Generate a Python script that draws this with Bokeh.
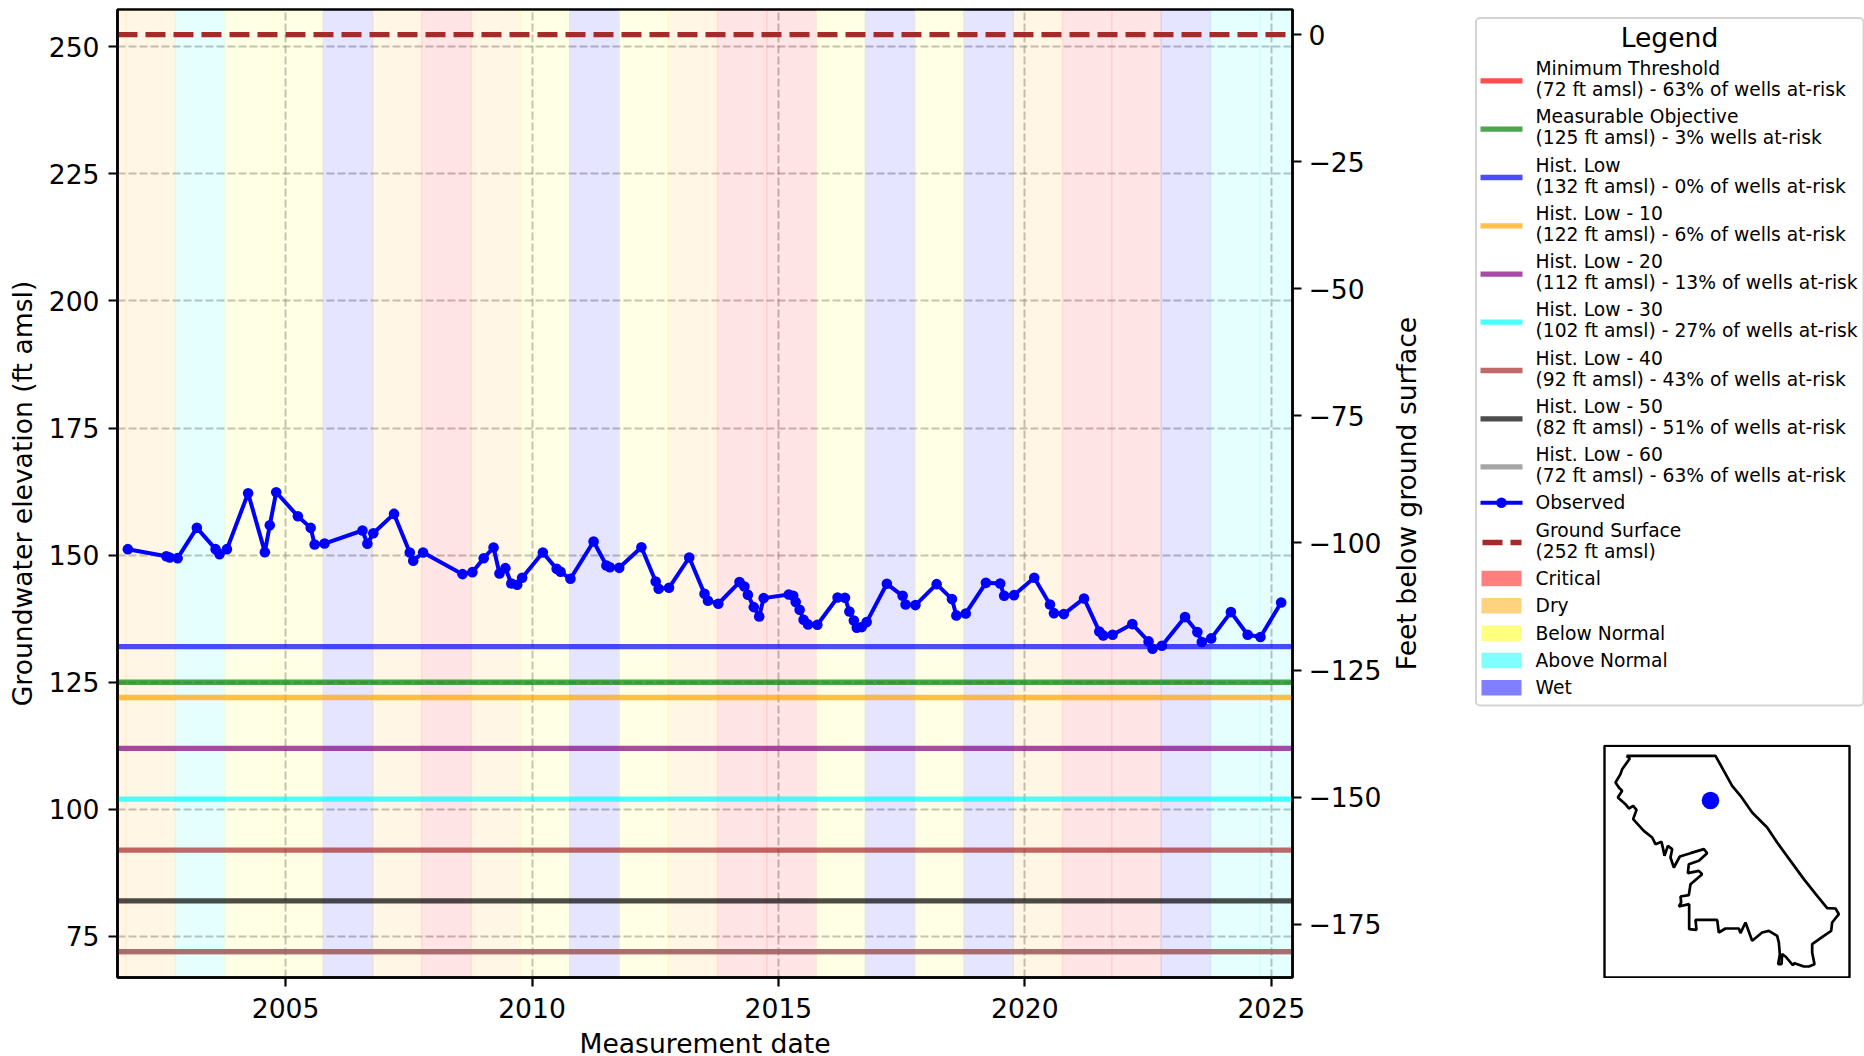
import math
from bokeh.plotting import figure
from bokeh.models import Range1d, LinearAxis, FixedTicker
from bokeh.layouts import row, column
from bokeh.core.properties import value
from bokeh.embed import file_html
from bokeh.resources import INLINE

FONT = "DejaVu Sans"

# Observed groundwater elevation
obs_year = [2001.80, 2002.58, 2002.65, 2002.81, 2003.20, 2003.58, 2003.66, 2003.81, 2004.24, 2004.58,
            2004.68, 2004.81, 2005.25, 2005.51, 2005.59, 2005.79, 2006.56, 2006.66, 2006.78, 2007.20,
            2007.52, 2007.59, 2007.79, 2008.59, 2008.79, 2009.02, 2009.22, 2009.34, 2009.46, 2009.58,
            2009.70, 2009.80, 2010.22, 2010.50, 2010.58, 2010.78, 2011.25, 2011.51, 2011.58, 2011.77,
            2012.22, 2012.51, 2012.57, 2012.78, 2013.19, 2013.50, 2013.57, 2013.78, 2014.21, 2014.31,
            2014.38, 2014.50, 2014.61, 2014.70, 2015.21, 2015.30, 2015.35, 2015.43, 2015.51, 2015.60,
            2015.79, 2016.20, 2016.35, 2016.44, 2016.53, 2016.59, 2016.69, 2016.79, 2017.20, 2017.52,
            2017.58, 2017.78, 2018.21, 2018.52, 2018.61, 2018.80, 2019.21, 2019.50, 2019.58, 2019.78,
            2020.19, 2020.51, 2020.59, 2020.79, 2021.20, 2021.51, 2021.59, 2021.78, 2022.18, 2022.51,
            2022.59, 2022.78, 2023.25, 2023.50, 2023.59, 2023.78, 2024.18, 2024.52, 2024.78, 2025.20]
obs_elev = [151.18, 149.8, 149.54, 149.41, 155.37, 151.18, 150.2, 151.18, 162.18, 150.59,
            155.89, 162.38, 157.66, 155.37, 152.1, 152.29, 154.85, 152.23, 154.32, 158.12,
            150.52, 148.89, 150.52, 146.27, 146.66, 149.41, 151.51, 146.4, 147.45, 144.43,
            144.17, 145.55, 150.52, 147.31, 146.73, 145.35, 152.68, 147.97, 147.64, 147.51,
            151.57, 144.83, 143.39, 143.58, 149.54, 142.4, 141.03, 140.44, 144.7, 143.84,
            142.2, 139.78, 137.95, 141.55, 142.27, 142.01, 140.77, 139.26, 137.3, 136.38,
            136.31, 141.68, 141.62, 138.93, 137.16, 135.72, 135.85, 136.84, 144.37, 142.01,
            140.31, 140.18, 144.3, 141.36, 138.15, 138.54, 144.56, 144.43, 142.01, 142.14,
            145.55, 140.31, 138.6, 138.41, 141.49, 135.0, 134.22, 134.35, 136.44, 133.04,
            131.6, 132.19, 137.82, 134.87, 132.91, 133.63, 138.8, 134.35, 133.89, 140.7]

# Water-year classification (a water year runs from 0.75 of the prior calendar year)
wy_start = [2000.75 + i for i in range(25)]
wy_type = ["Dry", "Dry", "Above Normal", "Below Normal", "Below Normal", "Wet", "Dry", "Critical", "Dry",
           "Below Normal", "Wet", "Below Normal", "Dry", "Critical", "Critical", "Below Normal", "Wet",
           "Below Normal", "Wet", "Dry", "Critical", "Critical", "Wet", "Above Normal", "Above Normal"]
wy_names = ["Critical", "Dry", "Below Normal", "Above Normal", "Wet"]
wy_colors = ["#ff0000", "#ffa500", "#ffff00", "#00ffff", "#0000ff"]

# Threshold levels: (name, elevation, share text, colour)
level_names = ["Minimum Threshold", "Measurable Objective", "Hist. Low", "Hist. Low - 10", "Hist. Low - 20",
               "Hist. Low - 30", "Hist. Low - 40", "Hist. Low - 50", "Hist. Low - 60"]
level_elev = [72, 125, 132, 122, 112, 102, 92, 82, 72]
level_risk = ["63% of wells", "3% wells", "0% of wells", "6% of wells", "13% of wells",
              "27% of wells", "43% of wells", "51% of wells", "63% of wells"]
level_colors = ["#ff0000", "#008000", "#0000ff", "#ffa500", "#800080", "#00ffff", "#a52a2a", "#000000", "#808080"]
ground_elev = 252.4

x_ticks = [2005, 2010, 2015, 2020, 2025]
left_ticks = [75, 100, 125, 150, 175, 200, 225, 250]
right_ticks = [0, -25, -50, -75, -100, -125, -150, -175]

# County outline for the location inset (map units, y grows downward)
outline_x = [108, 375, 400, 425, 450, 485, 530, 560, 600, 640, 680, 710, 735, 745, 725, 722, 700, 665, 665, 672,
             655, 640, 612, 607, 585, 575, 573, 563, 568, 565, 560, 535, 515, 485, 465, 450, 445, 405, 385, 380,
             315, 318, 296, 296, 265, 272, 270, 295, 300, 335, 325, 292, 295, 325, 350, 340, 300, 268, 250, 240,
             245, 232, 222, 218, 213, 195, 185, 160, 128, 138, 128, 115, 105, 82, 95, 85, 75, 90, 95, 118, 108]
outline_y = [60, 60, 105, 150, 180, 230, 275, 320, 375, 430, 480, 517, 518, 535, 560, 585, 600, 625, 650, 685,
             692, 692, 682, 688, 662, 655, 685, 685, 655, 620, 600, 585, 590, 615, 560, 592, 578, 578, 590, 552,
             552, 582, 580, 505, 512, 500, 482, 478, 445, 415, 405, 412, 385, 375, 352, 340, 352, 362, 395, 365,
             340, 330, 360, 340, 318, 325, 305, 285, 250, 222, 210, 218, 205, 185, 165, 155, 140, 115, 100, 68, 60]
well_x = [360]
well_y = [194]

# ---------- main chart ----------
x0, x1 = 2001.59, 2025.43
y0, y1 = 66.93, 257.33
p = figure(frame_width=1175, frame_height=968, output_backend="svg", toolbar_location=None,
           x_range=Range1d(x0, x1), y_range=Range1d(y0, y1),
           min_border_left=117, min_border_right=96, min_border_top=9, min_border_bottom=79)
p.extra_y_ranges = {"depth": Range1d(y0 - ground_elev, y1 - ground_elev)}
right = LinearAxis(y_range_name="depth")
p.add_layout(right, "right")

color_of = dict(zip(wy_names, wy_colors))
p.quad(left=wy_start, right=[s + 1.03 for s in wy_start], bottom=y0, top=y1,
       fill_color=[color_of[t] for t in wy_type], fill_alpha=0.1, line_color=None)

for elev, col in zip(level_elev, level_colors):
    p.line([x0, x1], [elev, elev], line_color=col, line_alpha=0.7, line_width=5.3)
p.line(obs_year, obs_elev, line_color="#0000ff", line_width=4)
p.scatter(obs_year, obs_elev, marker="circle", size=10.6, fill_color="#0000ff", line_color="#0000ff", line_width=0)
p.line([x0, x1], [ground_elev, ground_elev], line_color="#a52a2a", line_width=5.3, line_dash="20 8")

for ax in (p.xaxis[0], p.yaxis[0], right):
    ax.axis_line_color = "black"
    ax.axis_line_width = 2.5
    ax.major_tick_line_color = "black"
    ax.major_tick_line_width = 2.2
    ax.major_tick_out = 9
    ax.major_tick_in = 0
    ax.minor_tick_line_color = None
    ax.major_label_text_font = FONT
    ax.major_label_text_font_size = "26.6px"
    ax.major_label_text_color = "black"
    ax.axis_label_text_font = FONT
    ax.axis_label_text_font_size = "26.6px"
    ax.axis_label_text_font_style = "normal"
    ax.axis_label_text_color = "black"

p.xaxis[0].ticker = FixedTicker(ticks=x_ticks)
p.xaxis[0].major_label_overrides = {t: str(t) for t in x_ticks}
p.xaxis[0].axis_label = "Measurement date"
p.xaxis[0].axis_label_standoff = 7
p.xaxis[0].major_label_standoff = 11
p.yaxis[0].ticker = FixedTicker(ticks=left_ticks)
p.yaxis[0].axis_label = "Groundwater elevation (ft amsl)"
p.yaxis[0].axis_label_standoff = 8
p.yaxis[0].major_label_standoff = 9
right.ticker = FixedTicker(ticks=right_ticks)
right.major_label_overrides = {t: str(t).replace("-", "\u2212") for t in right_ticks}
right.major_label_standoff = 7

p.xgrid.ticker = FixedTicker(ticks=x_ticks)
p.ygrid.ticker = FixedTicker(ticks=left_ticks)
for g in (p.xgrid[0], p.ygrid[0]):
    g.grid_line_color = "#808080"
    g.grid_line_alpha = 0.5
    g.grid_line_width = 2
    g.grid_line_dash = "8 3"
p.outline_line_color = "black"
p.outline_line_width = 2.5
p.outline_line_alpha = 1
p.background_fill_color = "white"

tf = value(FONT)

# ---------- right-hand axis title in its own narrow strip, reading bottom to top ----------
strip = figure(frame_width=82, frame_height=968, output_backend="svg", toolbar_location=None,
               x_range=Range1d(1388, 1470), y_range=Range1d(y0, y1),
               x_axis_type=None, y_axis_type=None, min_border_left=0, min_border_right=0,
               min_border_top=9, min_border_bottom=79, outline_line_color=None)
strip.text([1405.5], [(y0 + y1) / 2], text=["Feet below ground surface"], angle=math.pi / 2, text_font=tf,
           text_font_size="26.6px", text_align="center", text_baseline="middle", text_color="black")

# ---------- legend panel (x/y in panel pixels) ----------
lg = figure(frame_width=394, frame_height=744, output_backend="svg", toolbar_location=None,
            x_range=Range1d(1470, 1864), y_range=Range1d(744, 0),
            x_axis_type=None, y_axis_type=None, min_border=0, outline_line_color=None)
lg.quad(left=[1475.5], right=[1863], top=[17.5], bottom=[705], fill_color="white", line_color="#d4d4d4",
        line_width=2, border_radius=4)
lg.text([1669], [36.7], text=["Legend"], text_font=tf, text_font_size="26.6px", text_align="center",
        text_baseline="middle", text_color="black")
H0, H1, LBL = 1480, 1522, 1535
level_y = [80.3, 128.7, 177, 225.3, 273.7, 321.7, 370, 418.3, 466.3]
for nm, elev, risk, col, yy in zip(level_names, level_elev, level_risk, level_colors, level_y):
    lg.line([H0, H1], [yy, yy], line_color=col, line_alpha=0.7, line_width=5.3)
    lg.text([LBL, LBL], [yy - 12.3, yy + 8.7], text=[nm, f"({elev} ft amsl) - {risk} at-risk"], text_font=tf,
            text_font_size="18.7px", text_baseline="middle", text_color="black")
lg.line([H0, H1], [502.3, 502.3], line_color="#0000ff", line_width=4)
lg.scatter([(H0 + H1) / 2], [502.3], marker="circle", size=10.6, fill_color="#0000ff", line_width=0)
lg.text([LBL], [502.3], text=["Observed"], text_font=tf, text_font_size="18.7px", text_baseline="middle",
        text_color="black")
lg.line([H0 + 2, H1 - 1], [542, 542], line_color="#a52a2a", line_width=5.3, line_dash="20 8")
lg.text([LBL, LBL], [529.7, 550.7], text=["Ground Surface", f"({round(ground_elev)} ft amsl)"], text_font=tf,
        text_font_size="18.7px", text_baseline="middle", text_color="black")
swatch_y = [578, 605.3, 632.7, 660, 687.3]
for nm, col, yy in zip(wy_names, wy_colors, swatch_y):
    lg.quad(left=[1481], right=[1521], top=[yy - 7.8], bottom=[yy + 7.8], fill_color=col, fill_alpha=0.5,
            line_color=None)
    lg.text([LBL], [yy], text=[nm], text_font=tf, text_font_size="18.7px", text_baseline="middle",
            text_color="black")

# ---------- location inset: 3 map units per pixel; its box spans 42..777 x 30..725 ----------
ins = figure(frame_width=394, frame_height=234, output_backend="svg", toolbar_location=None,
             x_range=Range1d(-360, 822), y_range=Range1d(728, 26),
             x_axis_type=None, y_axis_type=None, min_border=0, outline_line_color=None)
ins.quad(left=[42], right=[777], top=[30], bottom=[725], fill_color=None, line_color="black", line_width=2.4)
ins.line(outline_x, outline_y, line_color="black", line_width=2.7)
ins.scatter(well_x, well_y, marker="circle", size=17.5, fill_color="#0000ff", line_width=0)

layout = row(p, strip, column(lg, ins, spacing=0), spacing=0)
open("out.html", "w").write(file_html(layout, INLINE))
